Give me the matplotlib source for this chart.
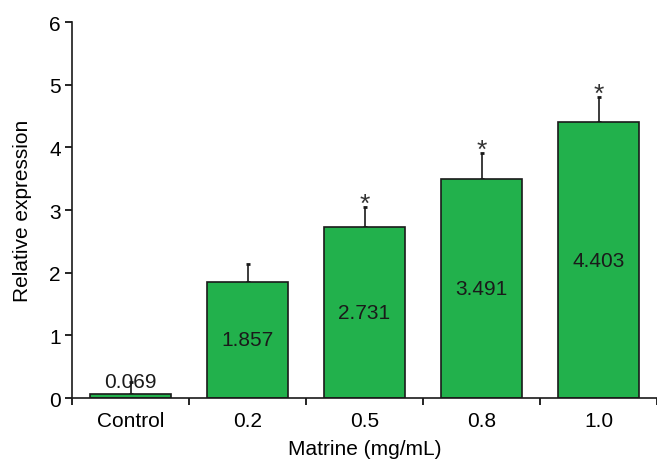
import matplotlib
matplotlib.use("Agg")
import matplotlib.pyplot as plt
import numpy as np

plt.rcParams["font.family"] = ["Liberation Sans", "DejaVu Sans"]

categories = ["Control", "0.2", "0.5", "0.8", "1.0"]
expression = [0.069, 1.857, 2.731, 3.491, 4.403]
errors = [0.18, 0.29, 0.31, 0.42, 0.40]
significant = [False, False, True, True, True]

bar_color = "#22b14c"

fig = plt.figure(figsize=(6.57, 4.64), dpi=100)
ax = fig.add_axes([0.1096, 0.140, 0.8904, 0.8103])

x = np.arange(len(categories))
ax.bar(x, expression, width=0.69, color=bar_color, edgecolor="#1a1a1a", linewidth=1.2, zorder=2)
ax.errorbar(x, expression, yerr=[np.zeros(len(errors)), errors], fmt="none",
            ecolor="#1a1a1a", elinewidth=1.2, capsize=1.6, capthick=2, zorder=1)

for xi, val, err, sig in zip(x, expression, errors, significant):
    if val < 0.5:
        ax.text(xi, val + 0.05, f"{val:.3f}", ha="center", va="bottom", fontsize=15, color="#1a1a1a", zorder=3)
    else:
        ax.text(xi, val / 2, f"{val:.3f}", ha="center", va="center", fontsize=15, color="#1a1a1a", zorder=3)
    if sig:
        # star sits just above the error cap
        ax.annotate("*", (xi, val + err), xytext=(0, -2.5), textcoords="offset points",
                    ha="center", va="baseline", fontsize=19, color="#333333")

ax.set_xlim(-0.5, len(categories) - 0.5)
ax.set_ylim(0, 6)
ax.set_yticks(range(0, 7))
ax.set_xticks(x)
ax.set_xticklabels(categories)
ax.set_xticks(np.arange(len(categories) + 1) - 0.5, minor=True)
ax.tick_params(axis="x", which="major", length=0, pad=9, labelsize=15)
ax.tick_params(axis="x", which="minor", length=5, width=1.2, direction="out")
ax.tick_params(axis="y", length=5, width=1.2, direction="out", labelsize=15, pad=3)

for side in ["top", "right"]:
    ax.spines[side].set_visible(False)
for side in ["left", "bottom"]:
    ax.spines[side].set_linewidth(1.2)
    ax.spines[side].set_color("#1a1a1a")

ax.set_xlabel("Matrine (mg/mL)", fontsize=15, labelpad=7)
ax.set_ylabel("Relative expression", fontsize=15, labelpad=12)

fig.savefig("out.png", dpi=100)
